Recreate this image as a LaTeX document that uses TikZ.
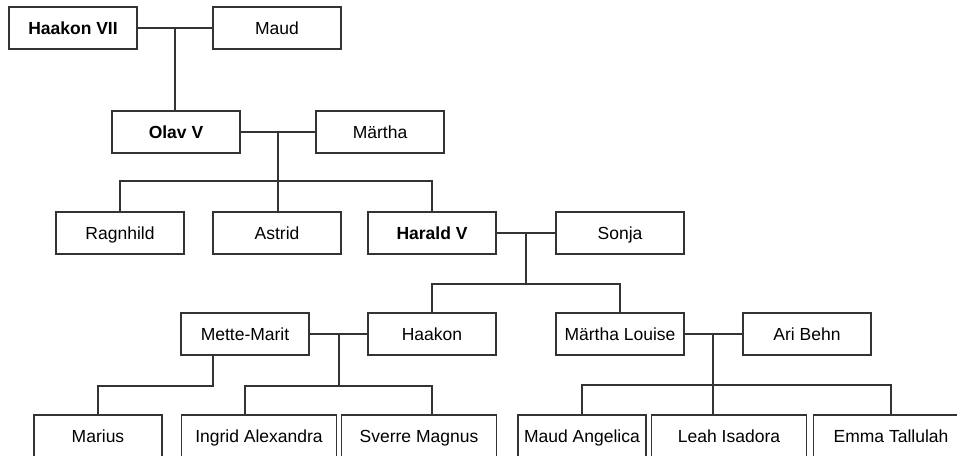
\documentclass[tikz,border=0pt]{standalone}
\usepackage{fontspec}
\setmainfont{Liberation Sans}
\usetikzlibrary{calc}

\begin{document}
\begin{tikzpicture}[x=1pt,y=-1pt,
    person/.style={draw=black!80,line width=1.3pt,minimum width=128pt,
                   minimum height=42pt,inner sep=2pt,
                   text height=13pt,text depth=0.5pt,
                   font=\fontsize{17.5}{20}\selectfont},
    king/.style={person,font=\fontsize{17.5}{20}\selectfont\bfseries},
    wide/.style={person,minimum width=155pt},
    link/.style={draw=black!80,line width=1.3pt}]
\useasboundingbox (0,0) rectangle (957,455);
\clip (0,0) rectangle (957,455);

\node [king]   (haakonVII) at ( 73, 28) {Haakon VII};
\node [person] (maud)      at (277, 28) {Maud};
\node [king]   (olav)      at (176,132) {Olav V};
\node [person] (maertha)   at (380,132) {Märtha};
\node [person] (ragnhild)  at (120,233) {Ragnhild};
\node [person] (astrid)    at (277,233) {Astrid};
\node [king]   (harald)    at (432,233) {Harald V};
\node [person] (sonja)     at (620,233) {Sonja};
\node [person] (mette)     at (245,334) {Mette-Marit};
\node [person] (haakon)    at (432,334) {Haakon};
\node [person] (louise)    at (620,334) {Märtha Louise};
\node [person] (ari)       at (807,334) {Ari Behn};
\node [person] (marius)    at ( 98,436) {Marius};
\node [wide]   (ingrid)    at (259,436) {Ingrid Alexandra};
\node [wide]   (sverre)    at (419,436) {Sverre Magnus};
\node [person] (angelica)  at (582,436) {Maud Angelica};
\node [wide]   (leah)      at (729,436) {Leah Isadora};
\node [wide]   (emma)      at (891,436) {Emma Tallulah};

% Haakon VII + Maud
\draw [link] (haakonVII) -- (maud);
\coordinate (c1) at ($(haakonVII.east)!.5!(maud.west)$);
\draw [link] (c1) -- (c1 |- olav.north);

% Olav V + Maertha
\draw [link] (olav) -- (maertha);
\coordinate (c2) at ($(olav.east)!.5!(maertha.west)$);
\coordinate (b2) at ($(c2)+(0,49)$);
\draw [link] (c2) -- (c2 |- astrid.north);
\draw [link] (ragnhild.north) |- (b2) -| (harald.north);

% Harald V + Sonja
\draw [link] (harald) -- (sonja);
\coordinate (c3) at ($(harald.east)!.5!(sonja.west)$);
\coordinate (b3) at ($(c3)+(0,51)$);
\draw [link] (c3) -- (b3);
\draw [link] (haakon.north) |- (b3) -| (louise.north);

% Mette-Marit + Haakon
\draw [link] (mette) -- (haakon);
\coordinate (c4) at ($(mette.east)!.5!(haakon.west)+(.5,0)$);
\coordinate (b4) at ($(c4)+(0,52)$);
\draw [link] (c4) -- (b4);
\draw [link] (mette |- ingrid.north) |- (b4) -| (haakon |- sverre.north);
\coordinate (b6) at ($(mette)+(-32,52)$);
\draw [link] (b6 |- mette.south) -- (b6) -| (marius.north);

% Maertha Louise + Ari Behn
\draw [link] (louise) -- (ari);
\coordinate (c5) at ($(louise.east)!.5!(ari.west)+(-.5,0)$);
\coordinate (b5) at ($(c5)+(0,51)$);
\draw [link] (c5) -- (c5 |- leah.north);
\draw [link] (angelica.north) |- (b5) -| (emma.north);
\end{tikzpicture}
\end{document}
